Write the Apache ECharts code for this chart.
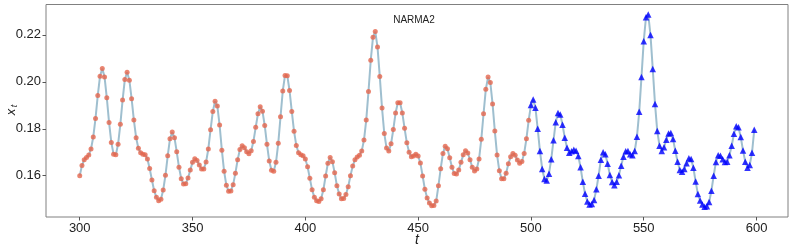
<!DOCTYPE html>
<html>
<head>
<meta charset="utf-8">
<script src="https://cdn.jsdelivr.net/npm/echarts@6/dist/echarts.min.js"></script>
<style>
  html, body { margin: 0; padding: 0; background: #ffffff; }
  #chart { width: 793px; height: 251px; }
</style>
</head>
<body>
<div id="chart"></div>
<script>
// ---- data ----
const startT = 300;
const redValues = [
  0.1600, 0.1644, 0.1668, 0.1678, 0.1688, 0.1714, 0.1765, 0.1844, 0.1942, 0.2024,
  0.2057, 0.2021, 0.1932, 0.1827, 0.1742, 0.1692, 0.1689, 0.1734, 0.1819, 0.1922,
  0.2010, 0.2041, 0.2007, 0.1928, 0.1837, 0.1762, 0.1717, 0.1698, 0.1692, 0.1689,
  0.1671, 0.1631, 0.1582, 0.1536, 0.1508, 0.1494, 0.1500, 0.1539, 0.1602, 0.1685,
  0.1757, 0.1786, 0.1762, 0.1702, 0.1636, 0.1587, 0.1565, 0.1566, 0.1590, 0.1624,
  0.1657, 0.1672, 0.1665, 0.1646, 0.1629, 0.1629, 0.1658, 0.1714, 0.1796, 0.1874,
  0.1917, 0.1897, 0.1816, 0.1709, 0.1619, 0.1559, 0.1534, 0.1535, 0.1562, 0.1611,
  0.1668, 0.1712, 0.1728, 0.1719, 0.1702, 0.1694, 0.1706, 0.1746, 0.1806, 0.1864,
  0.1894, 0.1875, 0.1814, 0.1734, 0.1663, 0.1623, 0.1619, 0.1657, 0.1738, 0.1851,
  0.1961, 0.2027, 0.2026, 0.1963, 0.1874, 0.1789, 0.1729, 0.1698, 0.1689, 0.1685,
  0.1671, 0.1638, 0.1589, 0.1540, 0.1508, 0.1494, 0.1490, 0.1502, 0.1540, 0.1599,
  0.1653, 0.1678, 0.1660, 0.1613, 0.1557, 0.1522, 0.1502, 0.1503, 0.1520, 0.1553,
  0.1600, 0.1641, 0.1668, 0.1680, 0.1687, 0.1705, 0.1752, 0.1837, 0.1959, 0.2092,
  0.2190, 0.2214, 0.2148, 0.2023, 0.1888, 0.1780, 0.1718, 0.1705, 0.1736, 0.1797,
  0.1867, 0.1911, 0.1911, 0.1867, 0.1802, 0.1740, 0.1700, 0.1681, 0.1684, 0.1692,
  0.1684, 0.1654, 0.1599, 0.1542, 0.1505, 0.1484, 0.1472, 0.1473, 0.1492, 0.1557,
  0.1630, 0.1695, 0.1726, 0.1715, 0.1677, 0.1636, 0.1610, 0.1607, 0.1624, 0.1657,
  0.1689, 0.1706, 0.1697, 0.1668, 0.1636, 0.1620, 0.1629, 0.1671, 0.1755, 0.1864,
  0.1968, 0.2020, 0.1997, 0.1906, 0.1790, 0.1688, 0.1621, 0.1587, 0.1587, 0.1611,
  0.1651, 0.1681, 0.1695, 0.1687, 0.1667, 0.1653, 0.1661, 0.1695, 0.1757, 0.1836
];
const blueValues = [
  0.1901, 0.1925, 0.1889, 0.1800, 0.1705, 0.1629, 0.1586, 0.1580, 0.1609, 0.1670,
  0.1751, 0.1828, 0.1867, 0.1861, 0.1817, 0.1762, 0.1719, 0.1698, 0.1704, 0.1711,
  0.1706, 0.1684, 0.1636, 0.1574, 0.1523, 0.1490, 0.1478, 0.1480, 0.1497, 0.1542,
  0.1600, 0.1668, 0.1700, 0.1691, 0.1651, 0.1603, 0.1573, 0.1560, 0.1574, 0.1602,
  0.1643, 0.1681, 0.1704, 0.1705, 0.1691, 0.1687, 0.1705, 0.1766, 0.1872, 0.2020,
  0.2173, 0.2275, 0.2287, 0.2199, 0.2055, 0.1906, 0.1790, 0.1728, 0.1705, 0.1721,
  0.1753, 0.1780, 0.1782, 0.1756, 0.1706, 0.1660, 0.1624, 0.1617, 0.1629, 0.1653,
  0.1674, 0.1671, 0.1634, 0.1576, 0.1522, 0.1495, 0.1478, 0.1468, 0.1470, 0.1488,
  0.1536, 0.1600, 0.1658, 0.1687, 0.1685, 0.1670, 0.1658, 0.1660, 0.1687, 0.1728,
  0.1779, 0.1811, 0.1806, 0.1765, 0.1708, 0.1660, 0.1634, 0.1646, 0.1698, 0.1796
];
const xTicks = [300, 350, 400, 450, 500, 550, 600];
const yTicks = [0.16, 0.18, 0.20, 0.22];
const titleText = 'NARMA2';
const xName = 't';
const yNameMain = 'x';
const yNameSub = 't';

// ---- build series data ----
const redPoints = redValues.map((v, i) => [startT + i, v]);
const bluePoints = blueValues.map((v, i) => [startT + redValues.length + i, v]);
const allPoints = redPoints.concat(bluePoints);

const FONT = 'Liberation Sans, Arial, Helvetica, sans-serif';
const chart = echarts.init(document.getElementById('chart'), null, { renderer: 'canvas' });

const xMin = 285.05, xMax = 613.95;
const yMin = 0.14243, yMax = 0.23292;

chart.setOption({
  animation: false,
  backgroundColor: '#ffffff',
  grid: {
    left: 46, right: 5, top: 4.5, bottom: 34,
    outerBoundsMode: 'none', containLabel: false,
    show: true, borderColor: '#808080', borderWidth: 1, backgroundColor: 'transparent'
  },
  graphic: [
    {
      type: 'text', x: 414, y: 20, z: 10,
      style: { text: titleText, fill: '#222', font: '10px ' + FONT, textAlign: 'center', textVerticalAlign: 'middle' }
    },
    {
      type: 'text', x: 417, y: 240, z: 10,
      style: { text: xName, fill: '#222', font: 'italic 14px ' + FONT, textAlign: 'center', textVerticalAlign: 'middle' }
    },
    {
      type: 'group', x: 11, y: 110, rotation: Math.PI / 2, z: 10,
      children: [
        { type: 'text', x: -2, y: 0, style: { text: yNameMain, fill: '#222', font: 'italic 13px ' + FONT, textAlign: 'center', textVerticalAlign: 'middle' } },
        { type: 'text', x: 4, y: 3.5, style: { text: yNameSub, fill: '#222', font: 'italic 9px ' + FONT, textAlign: 'center', textVerticalAlign: 'middle' } }
      ]
    }
  ],
  xAxis: {
    type: 'value', min: xMin, max: xMax,
    axisLine: { show: false },
    splitLine: { show: false },
    axisTick: { show: true, length: 3.5, lineStyle: { color: '#555' }, customValues: xTicks },
    axisLabel: { customValues: xTicks, fontFamily: FONT, fontSize: 13, color: '#222', margin: 5 }
  },
  yAxis: {
    type: 'value', min: yMin, max: yMax,
    axisLine: { show: false },
    splitLine: { show: false },
    axisTick: { show: true, length: 3.5, lineStyle: { color: '#555' }, customValues: yTicks },
    axisLabel: {
      customValues: yTicks, fontFamily: FONT, fontSize: 13, color: '#222', margin: 5,
      formatter: v => v.toFixed(2)
    }
  },
  series: [
    {
      type: 'line', data: allPoints, symbol: 'none', z: 1,
      lineStyle: { color: '#9fbfcf', width: 2 }
    },
    {
      type: 'scatter', data: redPoints, symbol: 'circle', symbolSize: 5, z: 2,
      itemStyle: { color: '#e5664d' }
    },
    {
      type: 'scatter', data: bluePoints, symbol: 'triangle', symbolSize: 6.5, z: 3,
      itemStyle: { color: '#0000ff' }
    }
  ]
});
</script>
</body>
</html>
